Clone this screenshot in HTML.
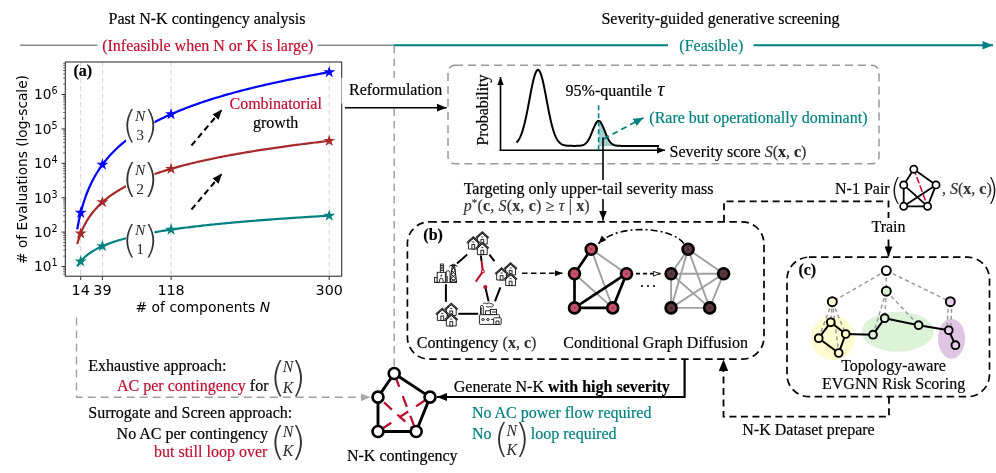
<!DOCTYPE html>
<html><head><meta charset="utf-8"><title>Figure</title>
<style>html,body{margin:0;padding:0;background:#fff}svg{display:block}text{stroke-width:0.18px}</style>
</head><body>
<svg width="996" height="473" viewBox="0 0 996 473">
<defs>
<marker id="ab" viewBox="0 0 10 8" refX="10" refY="4" markerWidth="10" markerHeight="8" markerUnits="userSpaceOnUse" orient="auto"><path d="M0,0 L10,4 L0,8 z" fill="#000"/></marker>
<marker id="abs" viewBox="0 0 10 8" refX="10" refY="4" markerWidth="8" markerHeight="6.4" markerUnits="userSpaceOnUse" orient="auto"><path d="M0,0 L10,4 L0,8 z" fill="#000"/></marker>
<marker id="ag" viewBox="0 0 10 8" refX="10" refY="4" markerWidth="10" markerHeight="8" markerUnits="userSpaceOnUse" orient="auto"><path d="M0,0 L10,4 L0,8 z" fill="#aaa"/></marker>
<marker id="at" viewBox="0 0 10 8" refX="10" refY="4" markerWidth="11" markerHeight="8.4" markerUnits="userSpaceOnUse" orient="auto"><path d="M0,0 L10,4 L0,8 z" fill="#008080"/></marker>
<marker id="ats" viewBox="0 0 10 8" refX="10" refY="4" markerWidth="10" markerHeight="8" markerUnits="userSpaceOnUse" orient="auto"><path d="M0,0 L10,4 L0,8 z" fill="#008080"/></marker>
<marker id="ao" viewBox="0 0 10 8" refX="10" refY="4" markerWidth="8" markerHeight="6" markerUnits="userSpaceOnUse" orient="auto"><path d="M0.5,0.8 L9,4 L0.5,7.2 z" fill="#fff" stroke="#000" stroke-width="1.2"/></marker>
</defs>
<rect width="996" height="473" fill="#fff"/>
<text x="207.00" y="23.80" font-size="16" fill="#000" text-anchor="middle" font-family="'Liberation Serif', serif"  stroke="#000">Past N-K contingency analysis</text>
<text x="720.50" y="23.80" font-size="16" fill="#000" text-anchor="middle" font-family="'Liberation Serif', serif"  stroke="#000">Severity-guided generative screening</text>
<line x1="20" y1="45.3" x2="97.5" y2="45.3" stroke="#8c8c8c" stroke-width="1.4"/>
<line x1="317.5" y1="45.3" x2="393.5" y2="45.3" stroke="#8c8c8c" stroke-width="1.4"/>
<text x="207.80" y="50.80" font-size="16" fill="#be1030" text-anchor="middle" font-family="'Liberation Serif', serif"  stroke="#be1030">(Infeasible when N or K is large)</text>
<line x1="393.5" y1="45.3" x2="668" y2="45.3" stroke="#008080" stroke-width="1.9"/>
<line x1="753.5" y1="45.3" x2="993" y2="45.3" stroke="#008080" stroke-width="1.9" marker-end="url(#at)"/>
<text x="711.30" y="50.80" font-size="16" fill="#008080" text-anchor="middle" font-family="'Liberation Serif', serif"  stroke="#008080">(Feasible)</text>
<line x1="394.2" y1="46" x2="394.2" y2="367" stroke="#a0a0a0" stroke-width="1.5" stroke-dasharray="7.5,5"/>
<line x1="80.7" y1="62" x2="80.7" y2="276.2" stroke="#d6d6d6" stroke-width="1.1" stroke-dasharray="5,3"/>
<line x1="102.4" y1="62" x2="102.4" y2="276.2" stroke="#d6d6d6" stroke-width="1.1" stroke-dasharray="5,3"/>
<line x1="171.1" y1="62" x2="171.1" y2="276.2" stroke="#d6d6d6" stroke-width="1.1" stroke-dasharray="5,3"/>
<line x1="329.2" y1="62" x2="329.2" y2="276.2" stroke="#d6d6d6" stroke-width="1.1" stroke-dasharray="5,3"/>
<clipPath id="cp"><rect x="65.3" y="62" width="276.4" height="214.2"/></clipPath>
<polyline points="77.22,266.50 78.96,263.78 80.70,261.47 82.44,259.48 84.18,257.72 85.91,256.14 87.65,254.72 89.39,253.42 91.13,252.22 92.87,251.12 94.60,250.09 96.34,249.12 98.08,248.22 99.82,247.36 101.56,246.56 103.29,245.79 105.03,245.06 106.77,244.37 108.51,243.70 110.25,243.07 111.98,242.46 113.72,241.87 115.46,241.31 117.20,240.76 118.94,240.24 120.67,239.73 122.41,239.24 124.15,238.77 125.89,238.31 127.63,237.86 129.36,237.43 131.10,237.01 132.84,236.60 134.58,236.20 136.32,235.81 138.05,235.43 139.79,235.06 141.53,234.70 143.27,234.35 145.01,234.01 146.74,233.67 148.48,233.35 150.22,233.02 151.96,232.71 153.70,232.40 155.43,232.10 157.17,231.80 158.91,231.51 160.65,231.23 162.39,230.95 164.12,230.68 165.86,230.41 167.60,230.14 169.34,229.88 171.08,229.63 172.81,229.38 174.55,229.13 176.29,228.89 178.03,228.65 179.77,228.41 181.50,228.18 183.24,227.95 184.98,227.73 186.72,227.51 188.46,227.29 190.19,227.07 191.93,226.86 193.67,226.65 195.41,226.45 197.15,226.24 198.88,226.04 200.62,225.84 202.36,225.65 204.10,225.46 205.84,225.27 207.57,225.08 209.31,224.89 211.05,224.71 212.79,224.53 214.53,224.35 216.26,224.17 218.00,224.00 219.74,223.83 221.48,223.65 223.22,223.49 224.95,223.32 226.69,223.15 228.43,222.99 230.17,222.83 231.91,222.67 233.64,222.51 235.38,222.35 237.12,222.20 238.86,222.05 240.60,221.89 242.33,221.74 244.07,221.60 245.81,221.45 247.55,221.30 249.29,221.16 251.02,221.02 252.76,220.87 254.50,220.73 256.24,220.59 257.98,220.46 259.71,220.32 261.45,220.19 263.19,220.05 264.93,219.92 266.67,219.79 268.40,219.66 270.14,219.53 271.88,219.40 273.62,219.27 275.36,219.15 277.09,219.02 278.83,218.90 280.57,218.77 282.31,218.65 284.05,218.53 285.78,218.41 287.52,218.29 289.26,218.17 291.00,218.06 292.74,217.94 294.47,217.82 296.21,217.71 297.95,217.60 299.69,217.48 301.43,217.37 303.16,217.26 304.90,217.15 306.64,217.04 308.38,216.93 310.12,216.82 311.85,216.72 313.59,216.61 315.33,216.51 317.07,216.40 318.81,216.30 320.54,216.19 322.28,216.09 324.02,215.99 325.76,215.89 327.50,215.79 329.23,215.69" fill="none" stroke="#008080" stroke-width="2.2" stroke-linejoin="round" clip-path="url(#cp)"/>
<polyline points="77.22,244.03 78.96,238.31 80.70,233.51 82.44,229.38 84.18,225.75 85.91,222.51 87.65,219.59 89.39,216.93 91.13,214.49 92.87,212.23 94.60,210.14 96.34,208.18 98.08,206.34 99.82,204.60 101.56,202.96 103.29,201.41 105.03,199.94 106.77,198.53 108.51,197.19 110.25,195.90 111.98,194.67 113.72,193.48 115.46,192.35 117.20,191.25 118.94,190.19 120.67,189.17 122.41,188.18 124.15,187.23 125.89,186.30 127.63,185.40 129.36,184.53 131.10,183.68 132.84,182.86 134.58,182.05 136.32,181.27 138.05,180.51 139.79,179.77 141.53,179.04 143.27,178.34 145.01,177.65 146.74,176.97 148.48,176.31 150.22,175.66 151.96,175.03 153.70,174.41 155.43,173.81 157.17,173.21 158.91,172.63 160.65,172.06 162.39,171.49 164.12,170.94 165.86,170.40 167.60,169.87 169.34,169.35 171.08,168.84 172.81,168.33 174.55,167.84 176.29,167.35 178.03,166.87 179.77,166.40 181.50,165.93 183.24,165.47 184.98,165.02 186.72,164.58 188.46,164.14 190.19,163.71 191.93,163.28 193.67,162.86 195.41,162.45 197.15,162.04 198.88,161.64 200.62,161.24 202.36,160.85 204.10,160.46 205.84,160.08 207.57,159.71 209.31,159.33 211.05,158.97 212.79,158.60 214.53,158.24 216.26,157.89 218.00,157.54 219.74,157.19 221.48,156.85 223.22,156.51 224.95,156.18 226.69,155.84 228.43,155.52 230.17,155.19 231.91,154.87 233.64,154.56 235.38,154.24 237.12,153.93 238.86,153.62 240.60,153.32 242.33,153.02 244.07,152.72 245.81,152.43 247.55,152.13 249.29,151.84 251.02,151.56 252.76,151.27 254.50,150.99 256.24,150.71 257.98,150.44 259.71,150.16 261.45,149.89 263.19,149.63 264.93,149.36 266.67,149.10 268.40,148.83 270.14,148.57 271.88,148.32 273.62,148.06 275.36,147.81 277.09,147.56 278.83,147.31 280.57,147.06 282.31,146.82 284.05,146.58 285.78,146.34 287.52,146.10 289.26,145.86 291.00,145.63 292.74,145.39 294.47,145.16 296.21,144.93 297.95,144.71 299.69,144.48 301.43,144.26 303.16,144.03 304.90,143.81 306.64,143.59 308.38,143.38 310.12,143.16 311.85,142.94 313.59,142.73 315.33,142.52 317.07,142.31 318.81,142.10 320.54,141.89 322.28,141.69 324.02,141.48 325.76,141.28 327.50,141.08 329.23,140.88" fill="none" stroke="#a52a2a" stroke-width="2.2" stroke-linejoin="round" clip-path="url(#cp)"/>
<polyline points="77.22,229.38 78.96,220.32 80.70,212.80 82.44,206.36 84.18,200.74 85.91,195.74 87.65,191.25 89.39,187.17 91.13,183.42 92.87,179.97 94.60,176.77 96.34,173.78 98.08,170.97 99.82,168.33 101.56,165.84 103.29,163.48 105.03,161.24 106.77,159.10 108.51,157.06 110.25,155.11 111.98,153.25 113.72,151.45 115.46,149.73 117.20,148.07 118.94,146.47 120.67,144.92 122.41,143.43 124.15,141.98 125.89,140.58 127.63,139.22 129.36,137.90 131.10,136.62 132.84,135.38 134.58,134.16 136.32,132.99 138.05,131.84 139.79,130.72 141.53,129.62 143.27,128.55 145.01,127.51 146.74,126.49 148.48,125.50 150.22,124.52 151.96,123.57 153.70,122.64 155.43,121.72 157.17,120.82 158.91,119.95 160.65,119.08 162.39,118.24 164.12,117.41 165.86,116.59 167.60,115.79 169.34,115.01 171.08,114.23 172.81,113.47 174.55,112.73 176.29,111.99 178.03,111.27 179.77,110.56 181.50,109.86 183.24,109.17 184.98,108.49 186.72,107.82 188.46,107.16 190.19,106.51 191.93,105.87 193.67,105.24 195.41,104.62 197.15,104.00 198.88,103.40 200.62,102.80 202.36,102.21 204.10,101.63 205.84,101.05 207.57,100.48 209.31,99.92 211.05,99.37 212.79,98.82 214.53,98.28 216.26,97.75 218.00,97.22 219.74,96.70 221.48,96.19 223.22,95.68 224.95,95.17 226.69,94.68 228.43,94.18 230.17,93.70 231.91,93.21 233.64,92.74 235.38,92.27 237.12,91.80 238.86,91.34 240.60,90.88 242.33,90.43 244.07,89.98 245.81,89.54 247.55,89.10 249.29,88.66 251.02,88.23 252.76,87.80 254.50,87.38 256.24,86.96 257.98,86.55 259.71,86.13 261.45,85.73 263.19,85.32 264.93,84.92 266.67,84.53 268.40,84.13 270.14,83.74 271.88,83.36 273.62,82.97 275.36,82.59 277.09,82.22 278.83,81.84 280.57,81.47 282.31,81.11 284.05,80.74 285.78,80.38 287.52,80.02 289.26,79.67 291.00,79.31 292.74,78.96 294.47,78.62 296.21,78.27 297.95,77.93 299.69,77.59 301.43,77.25 303.16,76.92 304.90,76.59 306.64,76.26 308.38,75.93 310.12,75.60 311.85,75.28 313.59,74.96 315.33,74.64 317.07,74.33 318.81,74.02 320.54,73.70 322.28,73.39 324.02,73.09 325.76,72.78 327.50,72.48 329.23,72.18" fill="none" stroke="#0000ff" stroke-width="2.2" stroke-linejoin="round" clip-path="url(#cp)"/>
<polygon points="80.70,255.17 82.11,259.53 86.69,259.53 82.99,262.22 84.40,266.57 80.70,263.88 77.00,266.57 78.41,262.22 74.71,259.53 79.29,259.53" fill="#008080"/>
<polygon points="102.43,239.87 103.84,244.22 108.42,244.22 104.71,246.91 106.13,251.26 102.43,248.57 98.72,251.26 100.14,246.91 96.43,244.22 101.01,244.22" fill="#008080"/>
<polygon points="171.08,223.33 172.49,227.68 177.07,227.68 173.36,230.37 174.78,234.72 171.08,232.03 167.37,234.72 168.79,230.37 165.08,227.68 169.66,227.68" fill="#008080"/>
<polygon points="329.23,209.39 330.65,213.74 335.23,213.74 331.52,216.43 332.94,220.78 329.23,218.09 325.53,220.78 326.95,216.43 323.24,213.74 327.82,213.74" fill="#008080"/>
<polygon points="80.70,227.21 82.11,231.56 86.69,231.56 82.99,234.25 84.40,238.61 80.70,235.92 77.00,238.61 78.41,234.25 74.71,231.56 79.29,231.56" fill="#a52a2a"/>
<polygon points="102.43,195.88 103.84,200.23 108.42,200.23 104.71,202.92 106.13,207.28 102.43,204.58 98.72,207.28 100.14,202.92 96.43,200.23 101.01,200.23" fill="#a52a2a"/>
<polygon points="171.08,162.54 172.49,166.89 177.07,166.89 173.36,169.58 174.78,173.93 171.08,171.24 167.37,173.93 168.79,169.58 165.08,166.89 169.66,166.89" fill="#a52a2a"/>
<polygon points="329.23,134.58 330.65,138.93 335.23,138.93 331.52,141.62 332.94,145.98 329.23,143.29 325.53,145.98 326.95,141.62 323.24,138.93 327.82,138.93" fill="#a52a2a"/>
<polygon points="80.70,206.50 82.11,210.85 86.69,210.85 82.99,213.54 84.40,217.89 80.70,215.20 77.00,217.89 78.41,213.54 74.71,210.85 79.29,210.85" fill="#0000ff"/>
<polygon points="102.43,158.35 103.84,162.70 108.42,162.70 104.71,165.39 106.13,169.74 102.43,167.05 98.72,169.74 100.14,165.39 96.43,162.70 101.01,162.70" fill="#0000ff"/>
<polygon points="171.08,107.93 172.49,112.29 177.07,112.29 173.36,114.98 174.78,119.33 171.08,116.64 167.37,119.33 168.79,114.98 165.08,112.29 169.66,112.29" fill="#0000ff"/>
<polygon points="329.23,65.88 330.65,70.23 335.23,70.23 331.52,72.92 332.94,77.28 329.23,74.59 325.53,77.28 326.95,72.92 323.24,70.23 327.82,70.23" fill="#0000ff"/>
<rect x="125.9" y="108.5" width="28.6" height="33.3" fill="#fff"/>
<text x="140.20" y="120.50" font-size="15.5" fill="#2a2a2a" text-anchor="middle" font-family="'Liberation Serif', serif" font-style="italic" style="stroke-width:0" stroke="#2a2a2a">N</text>
<text x="140.20" y="139.50" font-size="15.5" fill="#2a2a2a" text-anchor="middle" font-family="'Liberation Serif', serif" style="stroke-width:0" stroke="#2a2a2a">3</text>
<text x="122.33" y="136.87" font-size="37.33" fill="#333" font-family="'DejaVu Sans Light', 'DejaVu Sans', sans-serif" font-weight="200">(</text>
<text x="143.51" y="136.87" font-size="37.33" fill="#333" font-family="'DejaVu Sans Light', 'DejaVu Sans', sans-serif" font-weight="200">)</text>
<rect x="125.9" y="162.3" width="28.6" height="35.1" fill="#fff"/>
<text x="140.20" y="174.80" font-size="15.5" fill="#2a2a2a" text-anchor="middle" font-family="'Liberation Serif', serif" font-style="italic" style="stroke-width:0" stroke="#2a2a2a">N</text>
<text x="140.20" y="193.80" font-size="15.5" fill="#2a2a2a" text-anchor="middle" font-family="'Liberation Serif', serif" style="stroke-width:0" stroke="#2a2a2a">2</text>
<text x="122.11" y="192.21" font-size="39.35" fill="#333" font-family="'DejaVu Sans Light', 'DejaVu Sans', sans-serif" font-weight="200">(</text>
<text x="142.94" y="192.21" font-size="39.35" fill="#333" font-family="'DejaVu Sans Light', 'DejaVu Sans', sans-serif" font-weight="200">)</text>
<rect x="125.9" y="223.3" width="28.6" height="33.3" fill="#fff"/>
<text x="140.20" y="234.60" font-size="15.5" fill="#2a2a2a" text-anchor="middle" font-family="'Liberation Serif', serif" font-style="italic" style="stroke-width:0" stroke="#2a2a2a">N</text>
<text x="140.20" y="253.80" font-size="15.5" fill="#2a2a2a" text-anchor="middle" font-family="'Liberation Serif', serif" style="stroke-width:0" stroke="#2a2a2a">1</text>
<text x="122.33" y="251.67" font-size="37.33" fill="#333" font-family="'DejaVu Sans Light', 'DejaVu Sans', sans-serif" font-weight="200">(</text>
<text x="143.51" y="251.67" font-size="37.33" fill="#333" font-family="'DejaVu Sans Light', 'DejaVu Sans', sans-serif" font-weight="200">)</text>
<rect x="65.3" y="62" width="276.4" height="214.2" fill="none" stroke="#2a2a2a" stroke-width="1.05"/>
<line x1="61.5" y1="266.5" x2="65.3" y2="266.5" stroke="#333" stroke-width="1"/>
<text x="57.5" y="271.3" font-size="13.7" text-anchor="end" fill="#000" font-family="'DejaVu Sans', 'Liberation Sans', sans-serif">10<tspan dy="-5" font-size="9.6">1</tspan></text>
<line x1="61.5" y1="232.1" x2="65.3" y2="232.1" stroke="#333" stroke-width="1"/>
<text x="57.5" y="236.9" font-size="13.7" text-anchor="end" fill="#000" font-family="'DejaVu Sans', 'Liberation Sans', sans-serif">10<tspan dy="-5" font-size="9.6">2</tspan></text>
<line x1="61.5" y1="197.7" x2="65.3" y2="197.7" stroke="#333" stroke-width="1"/>
<text x="57.5" y="202.5" font-size="13.7" text-anchor="end" fill="#000" font-family="'DejaVu Sans', 'Liberation Sans', sans-serif">10<tspan dy="-5" font-size="9.6">3</tspan></text>
<line x1="61.5" y1="163.3" x2="65.3" y2="163.3" stroke="#333" stroke-width="1"/>
<text x="57.5" y="168.1" font-size="13.7" text-anchor="end" fill="#000" font-family="'DejaVu Sans', 'Liberation Sans', sans-serif">10<tspan dy="-5" font-size="9.6">4</tspan></text>
<line x1="61.5" y1="128.9" x2="65.3" y2="128.9" stroke="#333" stroke-width="1"/>
<text x="57.5" y="133.7" font-size="13.7" text-anchor="end" fill="#000" font-family="'DejaVu Sans', 'Liberation Sans', sans-serif">10<tspan dy="-5" font-size="9.6">5</tspan></text>
<line x1="61.5" y1="94.5" x2="65.3" y2="94.5" stroke="#333" stroke-width="1"/>
<text x="57.5" y="99.3" font-size="13.7" text-anchor="end" fill="#000" font-family="'DejaVu Sans', 'Liberation Sans', sans-serif">10<tspan dy="-5" font-size="9.6">6</tspan></text>
<line x1="63.099999999999994" y1="274.1" x2="65.3" y2="274.1" stroke="#333" stroke-width="0.7"/>
<line x1="63.099999999999994" y1="271.8" x2="65.3" y2="271.8" stroke="#333" stroke-width="0.7"/>
<line x1="63.099999999999994" y1="269.8" x2="65.3" y2="269.8" stroke="#333" stroke-width="0.7"/>
<line x1="63.099999999999994" y1="268.1" x2="65.3" y2="268.1" stroke="#333" stroke-width="0.7"/>
<line x1="63.099999999999994" y1="256.1" x2="65.3" y2="256.1" stroke="#333" stroke-width="0.7"/>
<line x1="63.099999999999994" y1="250.1" x2="65.3" y2="250.1" stroke="#333" stroke-width="0.7"/>
<line x1="63.099999999999994" y1="245.8" x2="65.3" y2="245.8" stroke="#333" stroke-width="0.7"/>
<line x1="63.099999999999994" y1="242.5" x2="65.3" y2="242.5" stroke="#333" stroke-width="0.7"/>
<line x1="63.099999999999994" y1="239.7" x2="65.3" y2="239.7" stroke="#333" stroke-width="0.7"/>
<line x1="63.099999999999994" y1="237.4" x2="65.3" y2="237.4" stroke="#333" stroke-width="0.7"/>
<line x1="63.099999999999994" y1="235.4" x2="65.3" y2="235.4" stroke="#333" stroke-width="0.7"/>
<line x1="63.099999999999994" y1="233.7" x2="65.3" y2="233.7" stroke="#333" stroke-width="0.7"/>
<line x1="63.099999999999994" y1="221.7" x2="65.3" y2="221.7" stroke="#333" stroke-width="0.7"/>
<line x1="63.099999999999994" y1="215.7" x2="65.3" y2="215.7" stroke="#333" stroke-width="0.7"/>
<line x1="63.099999999999994" y1="211.4" x2="65.3" y2="211.4" stroke="#333" stroke-width="0.7"/>
<line x1="63.099999999999994" y1="208.1" x2="65.3" y2="208.1" stroke="#333" stroke-width="0.7"/>
<line x1="63.099999999999994" y1="205.3" x2="65.3" y2="205.3" stroke="#333" stroke-width="0.7"/>
<line x1="63.099999999999994" y1="203.0" x2="65.3" y2="203.0" stroke="#333" stroke-width="0.7"/>
<line x1="63.099999999999994" y1="201.0" x2="65.3" y2="201.0" stroke="#333" stroke-width="0.7"/>
<line x1="63.099999999999994" y1="199.3" x2="65.3" y2="199.3" stroke="#333" stroke-width="0.7"/>
<line x1="63.099999999999994" y1="187.3" x2="65.3" y2="187.3" stroke="#333" stroke-width="0.7"/>
<line x1="63.099999999999994" y1="181.3" x2="65.3" y2="181.3" stroke="#333" stroke-width="0.7"/>
<line x1="63.099999999999994" y1="177.0" x2="65.3" y2="177.0" stroke="#333" stroke-width="0.7"/>
<line x1="63.099999999999994" y1="173.7" x2="65.3" y2="173.7" stroke="#333" stroke-width="0.7"/>
<line x1="63.099999999999994" y1="170.9" x2="65.3" y2="170.9" stroke="#333" stroke-width="0.7"/>
<line x1="63.099999999999994" y1="168.6" x2="65.3" y2="168.6" stroke="#333" stroke-width="0.7"/>
<line x1="63.099999999999994" y1="166.6" x2="65.3" y2="166.6" stroke="#333" stroke-width="0.7"/>
<line x1="63.099999999999994" y1="164.9" x2="65.3" y2="164.9" stroke="#333" stroke-width="0.7"/>
<line x1="63.099999999999994" y1="152.9" x2="65.3" y2="152.9" stroke="#333" stroke-width="0.7"/>
<line x1="63.099999999999994" y1="146.9" x2="65.3" y2="146.9" stroke="#333" stroke-width="0.7"/>
<line x1="63.099999999999994" y1="142.6" x2="65.3" y2="142.6" stroke="#333" stroke-width="0.7"/>
<line x1="63.099999999999994" y1="139.3" x2="65.3" y2="139.3" stroke="#333" stroke-width="0.7"/>
<line x1="63.099999999999994" y1="136.5" x2="65.3" y2="136.5" stroke="#333" stroke-width="0.7"/>
<line x1="63.099999999999994" y1="134.2" x2="65.3" y2="134.2" stroke="#333" stroke-width="0.7"/>
<line x1="63.099999999999994" y1="132.2" x2="65.3" y2="132.2" stroke="#333" stroke-width="0.7"/>
<line x1="63.099999999999994" y1="130.5" x2="65.3" y2="130.5" stroke="#333" stroke-width="0.7"/>
<line x1="63.099999999999994" y1="118.5" x2="65.3" y2="118.5" stroke="#333" stroke-width="0.7"/>
<line x1="63.099999999999994" y1="112.5" x2="65.3" y2="112.5" stroke="#333" stroke-width="0.7"/>
<line x1="63.099999999999994" y1="108.2" x2="65.3" y2="108.2" stroke="#333" stroke-width="0.7"/>
<line x1="63.099999999999994" y1="104.9" x2="65.3" y2="104.9" stroke="#333" stroke-width="0.7"/>
<line x1="63.099999999999994" y1="102.1" x2="65.3" y2="102.1" stroke="#333" stroke-width="0.7"/>
<line x1="63.099999999999994" y1="99.8" x2="65.3" y2="99.8" stroke="#333" stroke-width="0.7"/>
<line x1="63.099999999999994" y1="97.8" x2="65.3" y2="97.8" stroke="#333" stroke-width="0.7"/>
<line x1="63.099999999999994" y1="96.1" x2="65.3" y2="96.1" stroke="#333" stroke-width="0.7"/>
<line x1="63.099999999999994" y1="84.1" x2="65.3" y2="84.1" stroke="#333" stroke-width="0.7"/>
<line x1="63.099999999999994" y1="78.1" x2="65.3" y2="78.1" stroke="#333" stroke-width="0.7"/>
<line x1="63.099999999999994" y1="73.8" x2="65.3" y2="73.8" stroke="#333" stroke-width="0.7"/>
<line x1="63.099999999999994" y1="70.5" x2="65.3" y2="70.5" stroke="#333" stroke-width="0.7"/>
<line x1="63.099999999999994" y1="67.7" x2="65.3" y2="67.7" stroke="#333" stroke-width="0.7"/>
<line x1="63.099999999999994" y1="65.4" x2="65.3" y2="65.4" stroke="#333" stroke-width="0.7"/>
<line x1="63.099999999999994" y1="63.4" x2="65.3" y2="63.4" stroke="#333" stroke-width="0.7"/>
<line x1="80.7" y1="276.2" x2="80.7" y2="280.0" stroke="#333" stroke-width="1"/>
<text x="80.70" y="294.70" font-size="14.3" fill="#000" text-anchor="middle" font-family="'DejaVu Sans', 'Liberation Sans', sans-serif" >14</text>
<line x1="102.4" y1="276.2" x2="102.4" y2="280.0" stroke="#333" stroke-width="1"/>
<text x="102.43" y="294.70" font-size="14.3" fill="#000" text-anchor="middle" font-family="'DejaVu Sans', 'Liberation Sans', sans-serif" >39</text>
<line x1="171.1" y1="276.2" x2="171.1" y2="280.0" stroke="#333" stroke-width="1"/>
<text x="171.08" y="294.70" font-size="14.3" fill="#000" text-anchor="middle" font-family="'DejaVu Sans', 'Liberation Sans', sans-serif" >118</text>
<line x1="329.2" y1="276.2" x2="329.2" y2="280.0" stroke="#333" stroke-width="1"/>
<text x="329.23" y="294.70" font-size="14.3" fill="#000" text-anchor="middle" font-family="'DejaVu Sans', 'Liberation Sans', sans-serif" >300</text>
<text x="202.8" y="311.5" font-size="13.9" text-anchor="middle" fill="#000" font-family="'DejaVu Sans', 'Liberation Sans', sans-serif"># of components <tspan font-style="italic">N</tspan></text>
<text transform="translate(26.8,169.5) rotate(-90)" font-size="13.7" text-anchor="middle" fill="#000" font-family="'DejaVu Sans', 'Liberation Sans', sans-serif"># of Evaluations (log-scale)</text>
<text x="73.50" y="76.30" font-size="16" fill="#000" text-anchor="start" font-family="'Liberation Serif', serif" font-weight="bold" stroke="#000">(a)</text>
<line x1="191.5" y1="145.5" x2="222" y2="109.5" stroke="#000" stroke-width="2.1" stroke-dasharray="6,4" marker-end="url(#ab)"/>
<line x1="191.5" y1="209.5" x2="222" y2="173.5" stroke="#000" stroke-width="2.1" stroke-dasharray="6,4" marker-end="url(#ab)"/>
<text x="275.70" y="109.00" font-size="16" fill="#be1030" text-anchor="middle" font-family="'Liberation Serif', serif"  stroke="#be1030">Combinatorial</text>
<text x="275.70" y="127.80" font-size="16" fill="#000" text-anchor="middle" font-family="'Liberation Serif', serif"  stroke="#000">growth</text>
<rect x="341.5" y="77.8" width="103" height="25.8" fill="#fff"/>
<text x="349.00" y="95.40" font-size="16" fill="#000" text-anchor="start" font-family="'Liberation Serif', serif"  stroke="#000">Reformulation</text>
<line x1="345" y1="107.7" x2="446.7" y2="107.7" stroke="#000" stroke-width="1.6" marker-end="url(#ab)"/>
<rect x="448" y="65.3" width="431" height="98.5" rx="7" fill="none" stroke="#999" stroke-width="1.5" stroke-dasharray="8,5"/>
<text transform="translate(488,110) rotate(-90)" font-size="16" text-anchor="middle" fill="#000" font-family="'Liberation Serif', serif" stroke="#000">Probability</text>
<line x1="500.5" y1="151" x2="500.5" y2="77" stroke="#000" stroke-width="1.6" marker-end="url(#abs)"/>
<line x1="499.7" y1="150.3" x2="665" y2="150.3" stroke="#000" stroke-width="1.6" marker-end="url(#abs)"/>
<path d="M598.6,145.9 L599.00,120.96 L599.50,121.18 L600.00,121.57 L600.50,122.12 L601.00,122.82 L601.50,123.66 L602.00,124.61 L602.50,125.66 L603.00,126.79 L603.50,127.99 L604.00,129.23 L604.50,130.48 L605.00,131.75 L605.50,132.99 L606.00,134.21 L606.50,135.39 L607.00,136.52 L607.50,137.58 L608.00,138.57 L608.50,139.49 L609.00,140.33 L609.50,141.10 L610.00,141.79 L610.50,142.40 L611.00,142.95 L611.50,143.42 L612.00,143.84 L612.50,144.19 L613.00,144.50 L613.50,144.76 L614.00,144.97 L614,145.9 Z" fill="#9fd0d0"/>
<polyline points="516.50,142.56 517.00,142.04 517.50,141.46 518.00,140.81 518.50,140.09 519.00,139.28 519.50,138.38 520.00,137.40 520.50,136.31 521.00,135.13 521.50,133.84 522.00,132.44 522.50,130.92 523.00,129.30 523.50,127.56 524.00,125.70 524.50,123.73 525.00,121.65 525.50,119.47 526.00,117.19 526.50,114.82 527.00,112.36 527.50,109.83 528.00,107.24 528.50,104.61 529.00,101.95 529.50,99.27 530.00,96.59 530.50,93.94 531.00,91.33 531.50,88.78 532.00,86.32 532.50,83.96 533.00,81.72 533.50,79.62 534.00,77.69 534.50,75.94 535.00,74.39 535.50,73.04 536.00,71.93 536.50,71.05 537.00,70.41 537.50,70.03 538.00,69.90 538.50,70.03 539.00,70.41 539.50,71.05 540.00,71.93 540.50,73.04 541.00,74.39 541.50,75.94 542.00,77.69 542.50,79.62 543.00,81.72 543.50,83.96 544.00,86.32 544.50,88.78 545.00,91.33 545.50,93.94 546.00,96.59 546.50,99.27 547.00,101.95 547.50,104.61 548.00,107.24 548.50,109.83 549.00,112.36 549.50,114.82 550.00,117.19 550.50,119.47 551.00,121.65 551.50,123.73 552.00,125.70 552.50,127.56 553.00,129.30 553.50,130.92 554.00,132.44 554.50,133.84 555.00,135.13 555.50,136.31 556.00,137.40 556.50,138.38 557.00,139.28 557.50,140.09 558.00,140.81 558.50,141.46 559.00,142.04 559.50,142.56 560.00,143.02 560.50,143.42 561.00,143.77 561.50,144.08 562.00,144.35 562.50,144.59 563.00,144.79 563.50,144.96 564.00,145.11 564.50,145.24 565.00,145.35 565.50,145.44 566.00,145.52 566.50,145.59 567.00,145.64 567.50,145.69 568.00,145.73 568.50,145.76 569.00,145.79 569.50,145.81 570.00,145.82 570.50,145.84 571.00,145.85 571.50,145.86 572.00,145.87 572.50,145.87 573.00,145.88 573.50,145.88 574.00,145.88 574.50,145.88 575.00,145.88 575.50,145.88 576.00,145.87 576.50,145.87 577.00,145.86 577.50,145.85 578.00,145.83 578.50,145.81 579.00,145.78 579.50,145.74 580.00,145.69 580.50,145.64 581.00,145.56 581.50,145.47 582.00,145.36 582.50,145.22 583.00,145.05 583.50,144.85 584.00,144.61 584.50,144.32 585.00,143.98 585.50,143.59 586.00,143.14 586.50,142.63 587.00,142.04 587.50,141.38 588.00,140.65 588.50,139.84 589.00,138.95 589.50,137.99 590.00,136.95 590.50,135.85 591.00,134.69 591.50,133.49 592.00,132.25 592.50,130.99 593.00,129.73 593.50,128.48 594.00,127.27 594.50,126.11 595.00,125.02 595.50,124.02 596.00,123.14 596.50,122.39 597.00,121.77 597.50,121.32 598.00,121.02 598.50,120.90 599.00,120.96 599.50,121.18 600.00,121.57 600.50,122.12 601.00,122.82 601.50,123.66 602.00,124.61 602.50,125.66 603.00,126.79 603.50,127.99 604.00,129.23 604.50,130.48 605.00,131.75 605.50,132.99 606.00,134.21 606.50,135.39 607.00,136.52 607.50,137.58 608.00,138.57 608.50,139.49 609.00,140.33 609.50,141.10 610.00,141.79 610.50,142.40 611.00,142.95 611.50,143.42 612.00,143.84 612.50,144.19 613.00,144.50 613.50,144.76 614.00,144.97 614.50,145.15 615.00,145.30 615.50,145.43 616.00,145.53 616.50,145.61 617.00,145.67 617.50,145.72 618.00,145.77 618.50,145.80 619.00,145.82 619.50,145.84 620.00,145.86 620.50,145.87 621.00,145.88 621.50,145.88 622.00,145.89 622.50,145.89 623.00,145.89 623.50,145.90 624.00,145.90 624.50,145.90 625.00,145.90 625.50,145.90 626.00,145.90 626.50,145.90 627.00,145.90 627.50,145.90 628.00,145.90 628.50,145.90 629.00,145.90 629.50,145.90 630.00,145.90 630.50,145.90 631.00,145.90 631.50,145.90 632.00,145.90 632.50,145.90 633.00,145.90 633.50,145.90 634.00,145.90 634.50,145.90 635.00,145.90 635.50,145.90 636.00,145.90 636.50,145.90 637.00,145.90 637.50,145.90 638.00,145.90 638.50,145.90 639.00,145.90 639.50,145.90 640.00,145.90 640.50,145.90 641.00,145.90 641.50,145.90 642.00,145.90 642.50,145.90 643.00,145.90 643.50,145.90 644.00,145.90 644.50,145.90 645.00,145.90 645.50,145.90 646.00,145.90 646.50,145.90 647.00,145.90 647.50,145.90 648.00,145.90 648.50,145.90 649.00,145.90 649.50,145.90 650.00,145.90 650.50,145.90 651.00,145.90 651.50,145.90 652.00,145.90 652.50,145.90 653.00,145.90 653.50,145.90 654.00,145.90 654.50,145.90 655.00,145.90 655.50,145.90 656.00,145.90 656.50,145.90 657.00,145.90 657.50,145.90 658.00,145.90 658.50,145.90 659.00,145.90" fill="none" stroke="#000" stroke-width="2"/>
<line x1="598.6" y1="105.3" x2="598.6" y2="150.3" stroke="#008080" stroke-width="1.6" stroke-dasharray="5,3"/>
<line x1="603.6" y1="138.9" x2="643.5" y2="117.7" stroke="#008080" stroke-width="1.7" stroke-dasharray="6,4" marker-end="url(#ats)"/>
<text x="565.6" y="95.8" font-size="16" fill="#000" font-family="'Liberation Serif', serif" stroke="#000">95%-quantile <tspan font-style="italic" font-size="20" dx="1.5" style="stroke-width:0">τ</tspan></text>
<text x="649.30" y="123.30" font-size="16" fill="#008080" text-anchor="start" font-family="'Liberation Serif', serif"  stroke="#008080">(Rare but operationally dominant)</text>
<text x="669.6" y="156.5" font-size="16" fill="#000" font-family="'Liberation Serif', serif" stroke="#000">Severity score <tspan font-style="italic" fill="#333" stroke="#333">S</tspan><tspan fill="#333" stroke="#333">(</tspan><tspan font-weight="bold" fill="#222" stroke="#222">x</tspan><tspan fill="#333" stroke="#333">, </tspan><tspan font-weight="bold" fill="#222" stroke="#222">c</tspan><tspan fill="#333" stroke="#333">)</tspan></text>
<line x1="603" y1="137.5" x2="603" y2="220.5" stroke="#000" stroke-width="1.6" marker-end="url(#ab)"/>
<rect x="460" y="180" width="257" height="19" fill="#fff"/>
<text x="463.70" y="193.50" font-size="16" fill="#000" text-anchor="start" font-family="'Liberation Serif', serif"  stroke="#000">Targeting only upper-tail severity mass</text>
<text x="463.7" y="211.4" font-size="16" fill="#333" textLength="126" lengthAdjust="spacing" font-family="'Liberation Serif', serif" stroke="#333"><tspan font-style="italic">p</tspan><tspan dy="-5" font-size="11">*</tspan><tspan dy="5">(</tspan><tspan font-weight="bold">c</tspan>, <tspan font-style="italic">S</tspan>(<tspan font-weight="bold">x</tspan>, <tspan font-weight="bold">c</tspan>) ≥ <tspan font-style="italic">τ</tspan> | <tspan font-weight="bold">x</tspan>)</text>
<rect x="407.4" y="221.8" width="356.6" height="137.4" rx="22" fill="none" stroke="#000" stroke-width="1.7" stroke-dasharray="7.5,4.5"/>
<text x="423.30" y="239.60" font-size="16" fill="#000" text-anchor="start" font-family="'Liberation Serif', serif" font-weight="bold" stroke="#000">(b)</text>
<line x1="457" y1="263.6" x2="467.2" y2="254.6" stroke="#000" stroke-width="2.0" stroke-linecap="butt"/>
<line x1="489.4" y1="254.6" x2="494.4" y2="261.2" stroke="#000" stroke-width="2.0" stroke-linecap="butt"/>
<line x1="445.9" y1="284.2" x2="445.9" y2="301.8" stroke="#000" stroke-width="2.0" stroke-linecap="butt"/>
<line x1="458.3" y1="313.8" x2="478.2" y2="313.8" stroke="#000" stroke-width="2.0" stroke-linecap="butt"/>
<line x1="500.4" y1="287.4" x2="494.9" y2="301.4" stroke="#000" stroke-width="2.0" stroke-linecap="butt"/>
<line x1="485.3" y1="287" x2="488.6" y2="301.4" stroke="#000" stroke-width="2.0" stroke-linecap="butt"/>
<line x1="480.8" y1="255.4" x2="481.6" y2="261.3" stroke="#000" stroke-width="2.0" stroke-linecap="butt"/>
<line x1="481.6" y1="261.3" x2="482.8" y2="270.6" stroke="#c01030" stroke-width="2.1" stroke-linecap="butt"/>
<line x1="482.4" y1="272.2" x2="475.8" y2="281.6" stroke="#c01030" stroke-width="2.1" stroke-linecap="butt"/>
<circle cx="482.8" cy="271.4" r="1.4" fill="#fff" stroke="#c01030" stroke-width="1.2"/>
<circle cx="485.3" cy="287" r="2.1" fill="#c01030"/>
<g><path d="M477.40,237.60 L477.40,244.00 L487.20,244.00 L487.20,237.60 L482.30,233.20 Z" fill="#fff" stroke="#111" stroke-width="0.9"/><path d="M476.00,238.00 L482.30,232.40 L488.60,238.00" fill="none" stroke="#111" stroke-width="2" stroke-linejoin="miter"/><path d="M476.00,238.00 L482.30,232.40 L488.60,238.00" fill="none" stroke="#fff" stroke-width="0.5" stroke-dasharray="1,0.8"/><rect x="480.90" y="239.60" width="2.8" height="4.4" fill="#fff" stroke="#111" stroke-width="0.9"/><line x1="481.30" y1="237.00" x2="483.30" y2="237.00" stroke="#111" stroke-width="0.9"/><path d="M468.40,242.60 L468.40,249.00 L478.20,249.00 L478.20,242.60 L473.30,238.20 Z" fill="#fff" stroke="#111" stroke-width="0.9"/><path d="M467.00,243.00 L473.30,237.40 L479.60,243.00" fill="none" stroke="#111" stroke-width="2" stroke-linejoin="miter"/><path d="M467.00,243.00 L473.30,237.40 L479.60,243.00" fill="none" stroke="#fff" stroke-width="0.5" stroke-dasharray="1,0.8"/><rect x="471.90" y="244.60" width="2.8" height="4.4" fill="#fff" stroke="#111" stroke-width="0.9"/><line x1="472.30" y1="242.00" x2="474.30" y2="242.00" stroke="#111" stroke-width="0.9"/><path d="M477.40,248.20 L477.40,254.60 L487.20,254.60 L487.20,248.20 L482.30,243.80 Z" fill="#fff" stroke="#111" stroke-width="0.9"/><path d="M476.00,248.60 L482.30,243.00 L488.60,248.60" fill="none" stroke="#111" stroke-width="2" stroke-linejoin="miter"/><path d="M476.00,248.60 L482.30,243.00 L488.60,248.60" fill="none" stroke="#fff" stroke-width="0.5" stroke-dasharray="1,0.8"/><rect x="480.90" y="250.20" width="2.8" height="4.4" fill="#fff" stroke="#111" stroke-width="0.9"/><line x1="481.30" y1="247.60" x2="483.30" y2="247.60" stroke="#111" stroke-width="0.9"/></g>
<g><path d="M505.70,268.60 L505.70,275.00 L515.50,275.00 L515.50,268.60 L510.60,264.20 Z" fill="#fff" stroke="#111" stroke-width="0.9"/><path d="M504.30,269.00 L510.60,263.40 L516.90,269.00" fill="none" stroke="#111" stroke-width="2" stroke-linejoin="miter"/><path d="M504.30,269.00 L510.60,263.40 L516.90,269.00" fill="none" stroke="#fff" stroke-width="0.5" stroke-dasharray="1,0.8"/><rect x="509.20" y="270.60" width="2.8" height="4.4" fill="#fff" stroke="#111" stroke-width="0.9"/><line x1="509.60" y1="268.00" x2="511.60" y2="268.00" stroke="#111" stroke-width="0.9"/><path d="M496.70,273.60 L496.70,280.00 L506.50,280.00 L506.50,273.60 L501.60,269.20 Z" fill="#fff" stroke="#111" stroke-width="0.9"/><path d="M495.30,274.00 L501.60,268.40 L507.90,274.00" fill="none" stroke="#111" stroke-width="2" stroke-linejoin="miter"/><path d="M495.30,274.00 L501.60,268.40 L507.90,274.00" fill="none" stroke="#fff" stroke-width="0.5" stroke-dasharray="1,0.8"/><rect x="500.20" y="275.60" width="2.8" height="4.4" fill="#fff" stroke="#111" stroke-width="0.9"/><line x1="500.60" y1="273.00" x2="502.60" y2="273.00" stroke="#111" stroke-width="0.9"/><path d="M505.70,279.20 L505.70,285.60 L515.50,285.60 L515.50,279.20 L510.60,274.80 Z" fill="#fff" stroke="#111" stroke-width="0.9"/><path d="M504.30,279.60 L510.60,274.00 L516.90,279.60" fill="none" stroke="#111" stroke-width="2" stroke-linejoin="miter"/><path d="M504.30,279.60 L510.60,274.00 L516.90,279.60" fill="none" stroke="#fff" stroke-width="0.5" stroke-dasharray="1,0.8"/><rect x="509.20" y="281.20" width="2.8" height="4.4" fill="#fff" stroke="#111" stroke-width="0.9"/><line x1="509.60" y1="278.60" x2="511.60" y2="278.60" stroke="#111" stroke-width="0.9"/></g>
<g><path d="M446.40,309.00 L446.40,315.40 L456.20,315.40 L456.20,309.00 L451.30,304.60 Z" fill="#fff" stroke="#111" stroke-width="0.9"/><path d="M445.00,309.40 L451.30,303.80 L457.60,309.40" fill="none" stroke="#111" stroke-width="2" stroke-linejoin="miter"/><path d="M445.00,309.40 L451.30,303.80 L457.60,309.40" fill="none" stroke="#fff" stroke-width="0.5" stroke-dasharray="1,0.8"/><rect x="449.90" y="311.00" width="2.8" height="4.4" fill="#fff" stroke="#111" stroke-width="0.9"/><line x1="450.30" y1="308.40" x2="452.30" y2="308.40" stroke="#111" stroke-width="0.9"/><path d="M437.40,314.00 L437.40,320.40 L447.20,320.40 L447.20,314.00 L442.30,309.60 Z" fill="#fff" stroke="#111" stroke-width="0.9"/><path d="M436.00,314.40 L442.30,308.80 L448.60,314.40" fill="none" stroke="#111" stroke-width="2" stroke-linejoin="miter"/><path d="M436.00,314.40 L442.30,308.80 L448.60,314.40" fill="none" stroke="#fff" stroke-width="0.5" stroke-dasharray="1,0.8"/><rect x="440.90" y="316.00" width="2.8" height="4.4" fill="#fff" stroke="#111" stroke-width="0.9"/><line x1="441.30" y1="313.40" x2="443.30" y2="313.40" stroke="#111" stroke-width="0.9"/><path d="M446.40,319.60 L446.40,326.00 L456.20,326.00 L456.20,319.60 L451.30,315.20 Z" fill="#fff" stroke="#111" stroke-width="0.9"/><path d="M445.00,320.00 L451.30,314.40 L457.60,320.00" fill="none" stroke="#111" stroke-width="2" stroke-linejoin="miter"/><path d="M445.00,320.00 L451.30,314.40 L457.60,320.00" fill="none" stroke="#fff" stroke-width="0.5" stroke-dasharray="1,0.8"/><rect x="449.90" y="321.60" width="2.8" height="4.4" fill="#fff" stroke="#111" stroke-width="0.9"/><line x1="450.30" y1="319.00" x2="452.30" y2="319.00" stroke="#111" stroke-width="0.9"/></g>
<g stroke="#111" stroke-width="0.9" fill="#fff"><line x1="434" y1="282.3" x2="457" y2="282.3" stroke-width="1.3"/><rect x="434.6" y="277.4" width="2.6" height="4.9"/><rect x="437.2" y="272.3" width="8.2" height="10"/><path d="M439.6,282.3 V280 a1.7,1.7 0 0 1 3.4,0 V282.3" /><line x1="440.8" y1="276.6" x2="441.6" y2="274.6" stroke-width="1.1"/><rect x="440.3" y="264" width="3.2" height="8.3" stroke-width="0.8"/><line x1="440.3" y1="265.6" x2="443.5" y2="265.6" stroke-width="0.9"/><line x1="440.3" y1="267.2" x2="443.5" y2="267.2" stroke-width="0.9"/><line x1="440.3" y1="268.8" x2="443.5" y2="268.8" stroke-width="0.9"/><line x1="440.3" y1="270.4" x2="443.5" y2="270.4" stroke-width="0.9"/><path d="M446.2,282.3 V272.6 a1.9,1.9 0 0 1 3.8,0 V282.3" /><line x1="447.4" y1="276" x2="447.4" y2="282" stroke-width="0.7"/><path d="M450.2,282.3 L452.2,266 L454.6,266 L456.6,282.3" fill="none" stroke-width="1"/><path d="M452.2,266 L455.2,270.5 L451.4,274.5 L456,278.5 L450.4,282 M454.6,266 L451.6,270.5 L455.4,274.5 L450.8,278.5 L456.4,282" fill="none" stroke-width="0.9"/><path d="M449.3,266.3 L453.4,264.2 L457.5,266.3 M450.8,265.4 H456" fill="none" stroke-width="1"/></g>
<g stroke="#111" stroke-width="0.9" fill="#fff"><path d="M480.5,314.7 V306.8 a1.4,1.4 0 0 1 2.8,0 V314.7" /><line x1="481.5" y1="307.5" x2="481.5" y2="314.3" stroke-width="0.6"/><rect x="485.6" y="310.8" width="4.8" height="3.9"/><rect x="490.4" y="309.4" width="6.2" height="5.3"/><path d="M492,312 H496.4" fill="none" stroke-width="0.9"/><rect x="479.4" y="314.7" width="20.2" height="9.7" rx="0.8"/><ellipse cx="483" cy="319.5" rx="1.4" ry="0.9"/><ellipse cx="488" cy="319.5" rx="1.4" ry="0.9"/><path d="M491.2,319.5 H493" fill="none"/><rect x="493.6" y="317.8" width="7.6" height="6.6" rx="0.8"/><path d="M496,324.4 V321 H499 V324.4" fill="none"/><path d="M483.2,303.4 C485,302.8 486,303.2 487,304 C488.2,302.6 490.2,302.8 491,303.8 C492.6,303.4 493.6,304.6 493.2,305.8 C492.4,307.4 490.6,307.2 489.8,306.4 C488.8,307.4 487.2,307.4 486.2,306.2" fill="none" stroke-width="0.9"/></g>
<text x="416.8" y="347.7" font-size="16" fill="#000" font-family="'Liberation Serif', serif" stroke="#000">Contingency <tspan fill="#333" stroke="#333">(<tspan font-weight="bold">x</tspan>, <tspan font-weight="bold">c</tspan>)</tspan></text>
<text x="563.30" y="347.50" font-size="16" fill="#000" text-anchor="start" font-family="'Liberation Serif', serif"  stroke="#000">Conditional Graph Diffusion</text>
<line x1="522" y1="273.2" x2="562.5" y2="273.2" stroke="#000" stroke-width="1.6" stroke-dasharray="5.5,3.5" marker-end="url(#abs)"/>
<line x1="591.2" y1="249.2" x2="626.5" y2="273.7" stroke="#a0a0a0" stroke-width="1.9" stroke-linecap="round"/>
<line x1="591.2" y1="249.2" x2="612.7" y2="307.9" stroke="#a0a0a0" stroke-width="1.9" stroke-linecap="round"/>
<line x1="574.5" y1="273.7" x2="612.7" y2="307.9" stroke="#a0a0a0" stroke-width="1.9" stroke-linecap="round"/>
<line x1="591.2" y1="249.2" x2="574.5" y2="273.7" stroke="#000" stroke-width="2.7" stroke-linecap="round"/>
<line x1="574.5" y1="273.7" x2="574.5" y2="307.9" stroke="#000" stroke-width="2.7" stroke-linecap="round"/>
<line x1="574.5" y1="307.9" x2="612.7" y2="307.9" stroke="#000" stroke-width="2.7" stroke-linecap="round"/>
<line x1="574.5" y1="307.9" x2="626.5" y2="273.7" stroke="#000" stroke-width="2.7" stroke-linecap="round"/>
<line x1="612.7" y1="307.9" x2="626.5" y2="273.7" stroke="#000" stroke-width="2.7" stroke-linecap="round"/>
<circle cx="591.2" cy="249.2" r="5.5" fill="#c5506a" stroke="#000" stroke-width="2.6"/>
<circle cx="591.2" cy="249.2" r="1" fill="#8e3a4a"/>
<circle cx="574.5" cy="273.7" r="5.5" fill="#c5506a" stroke="#000" stroke-width="2.6"/>
<circle cx="574.5" cy="273.7" r="1" fill="#8e3a4a"/>
<circle cx="626.5" cy="273.7" r="5.5" fill="#c5506a" stroke="#000" stroke-width="2.6"/>
<circle cx="626.5" cy="273.7" r="1" fill="#8e3a4a"/>
<circle cx="574.5" cy="307.9" r="5.5" fill="#c5506a" stroke="#000" stroke-width="2.6"/>
<circle cx="574.5" cy="307.9" r="1" fill="#8e3a4a"/>
<circle cx="612.7" cy="307.9" r="5.5" fill="#c5506a" stroke="#000" stroke-width="2.6"/>
<circle cx="612.7" cy="307.9" r="1" fill="#8e3a4a"/>
<line x1="688.1" y1="249.2" x2="671.1" y2="273.7" stroke="#a0a0a0" stroke-width="1.9" stroke-linecap="round"/>
<line x1="688.1" y1="249.2" x2="723.6" y2="273.7" stroke="#a0a0a0" stroke-width="1.9" stroke-linecap="round"/>
<line x1="688.1" y1="249.2" x2="671.1" y2="307.9" stroke="#a0a0a0" stroke-width="1.9" stroke-linecap="round"/>
<line x1="688.1" y1="249.2" x2="709.7" y2="307.9" stroke="#a0a0a0" stroke-width="1.9" stroke-linecap="round"/>
<line x1="671.1" y1="273.7" x2="723.6" y2="273.7" stroke="#a0a0a0" stroke-width="1.9" stroke-linecap="round"/>
<line x1="671.1" y1="273.7" x2="671.1" y2="307.9" stroke="#a0a0a0" stroke-width="1.9" stroke-linecap="round"/>
<line x1="671.1" y1="273.7" x2="709.7" y2="307.9" stroke="#a0a0a0" stroke-width="1.9" stroke-linecap="round"/>
<line x1="723.6" y1="273.7" x2="671.1" y2="307.9" stroke="#a0a0a0" stroke-width="1.9" stroke-linecap="round"/>
<line x1="723.6" y1="273.7" x2="709.7" y2="307.9" stroke="#a0a0a0" stroke-width="1.9" stroke-linecap="round"/>
<line x1="671.1" y1="307.9" x2="709.7" y2="307.9" stroke="#a0a0a0" stroke-width="1.9" stroke-linecap="round"/>
<circle cx="688.1" cy="249.2" r="5.5" fill="#5a383e" stroke="#000" stroke-width="2.6"/>
<circle cx="688.1" cy="249.2" r="1" fill="#3c2428"/>
<circle cx="671.1" cy="273.7" r="5.5" fill="#5a383e" stroke="#000" stroke-width="2.6"/>
<circle cx="671.1" cy="273.7" r="1" fill="#3c2428"/>
<circle cx="723.6" cy="273.7" r="5.5" fill="#5a383e" stroke="#000" stroke-width="2.6"/>
<circle cx="723.6" cy="273.7" r="1" fill="#3c2428"/>
<circle cx="671.1" cy="307.9" r="5.5" fill="#5a383e" stroke="#000" stroke-width="2.6"/>
<circle cx="671.1" cy="307.9" r="1" fill="#3c2428"/>
<circle cx="709.7" cy="307.9" r="5.5" fill="#5a383e" stroke="#000" stroke-width="2.6"/>
<circle cx="709.7" cy="307.9" r="1" fill="#3c2428"/>
<line x1="636" y1="273.7" x2="660.5" y2="273.7" stroke="#000" stroke-width="1.7" stroke-dasharray="4,3" marker-end="url(#ao)"/>
<text x="648.00" y="286.60" font-size="12" fill="#000" text-anchor="middle" font-family="'Liberation Serif', serif" font-weight="bold" stroke="#000">. . .</text>
<path d="M684,243.6 C672,227 618,223 598.5,243.6" fill="none" stroke="#000" stroke-width="1.6" stroke-dasharray="7,3,2,3" marker-end="url(#abs)"/>
<polyline points="724,221.8 724,201.4 888.5,201.4 888.5,218" fill="none" stroke="#000" stroke-width="1.8" stroke-dasharray="7,4.5"/>
<text x="888.50" y="231.60" font-size="16" fill="#000" text-anchor="middle" font-family="'Liberation Serif', serif"  stroke="#000">Train</text>
<line x1="888.5" y1="239.5" x2="888.5" y2="256.4" stroke="#000" stroke-width="1.8" marker-end="url(#ab)"/>
<text x="835.00" y="194.00" font-size="16" fill="#000" text-anchor="start" font-family="'Liberation Serif', serif"  stroke="#000">N-1 Pair</text>
<line x1="913.8" y1="169.2" x2="903.7" y2="184.9" stroke="#000" stroke-width="1.8" stroke-linecap="round"/>
<line x1="913.8" y1="169.2" x2="936" y2="184.9" stroke="#000" stroke-width="1.8" stroke-linecap="round"/>
<line x1="903.7" y1="184.9" x2="903.7" y2="206.3" stroke="#000" stroke-width="1.8" stroke-linecap="round"/>
<line x1="903.7" y1="206.3" x2="927.6" y2="206.3" stroke="#000" stroke-width="1.8" stroke-linecap="round"/>
<line x1="927.6" y1="206.3" x2="936" y2="184.9" stroke="#000" stroke-width="1.8" stroke-linecap="round"/>
<line x1="903.7" y1="184.9" x2="927.6" y2="206.3" stroke="#000" stroke-width="1.8" stroke-linecap="round"/>
<line x1="903.7" y1="206.3" x2="936" y2="184.9" stroke="#000" stroke-width="1.8" stroke-linecap="round"/>
<line x1="913.8" y1="169.2" x2="927.6" y2="206.3" stroke="#c8102e" stroke-width="1.6" stroke-linecap="round" stroke-dasharray="5.5,3.5"/>
<circle cx="913.8" cy="169.2" r="3.6" fill="#fff" stroke="#000" stroke-width="1.7"/>
<circle cx="903.7" cy="184.9" r="3.6" fill="#fff" stroke="#000" stroke-width="1.7"/>
<circle cx="936" cy="184.9" r="3.6" fill="#fff" stroke="#000" stroke-width="1.7"/>
<circle cx="903.7" cy="206.3" r="3.6" fill="#fff" stroke="#000" stroke-width="1.7"/>
<circle cx="927.6" cy="206.3" r="3.6" fill="#fff" stroke="#000" stroke-width="1.7"/>
<text x="942" y="194" font-size="16" fill="#333" font-family="'Liberation Serif', serif" stroke="#333">, <tspan font-style="italic">S</tspan>(<tspan font-weight="bold">x</tspan>, <tspan font-weight="bold">c</tspan>)</text>
<text x="890.34" y="200.05" font-size="29.93" fill="#111" font-family="'DejaVu Sans Light', 'DejaVu Sans', sans-serif" font-weight="200">(</text>
<text x="986.79" y="200.05" font-size="29.93" fill="#111" font-family="'DejaVu Sans Light', 'DejaVu Sans', sans-serif" font-weight="200">)</text>
<rect x="787" y="257.2" width="202.5" height="139.5" rx="22" fill="none" stroke="#000" stroke-width="1.7" stroke-dasharray="7.5,4.5"/>
<text x="798.40" y="274.70" font-size="16" fill="#000" text-anchor="start" font-family="'Liberation Serif', serif" font-weight="bold" stroke="#000">(c)</text>
<ellipse cx="833" cy="338" rx="22" ry="22" fill="#fffdd0"/>
<ellipse cx="897.8" cy="331.7" rx="36" ry="20" fill="#dcf3d8"/>
<ellipse cx="951.5" cy="338.7" rx="13.5" ry="20" fill="#dfc6e3"/>
<line x1="886.3" y1="270.6" x2="832.3" y2="301.7" stroke="#9a9a9a" stroke-width="1.5" stroke-dasharray="4,3"/>
<line x1="886.3" y1="270.6" x2="886.3" y2="291.2" stroke="#9a9a9a" stroke-width="1.5" stroke-dasharray="4,3"/>
<line x1="886.3" y1="270.6" x2="950.3" y2="301.7" stroke="#9a9a9a" stroke-width="1.5" stroke-dasharray="4,3"/>
<line x1="832.3" y1="301.7" x2="830.75" y2="322.3" stroke="#9a9a9a" stroke-width="1.5" stroke-dasharray="4,3"/>
<line x1="832.3" y1="301.7" x2="818.7" y2="338.2" stroke="#9a9a9a" stroke-width="1.5" stroke-dasharray="4,3"/>
<line x1="832.3" y1="301.7" x2="845.7" y2="334" stroke="#9a9a9a" stroke-width="1.5" stroke-dasharray="4,3"/>
<line x1="832.3" y1="301.7" x2="838.7" y2="353" stroke="#9a9a9a" stroke-width="1.5" stroke-dasharray="4,3"/>
<line x1="886.3" y1="291.2" x2="873" y2="334.7" stroke="#9a9a9a" stroke-width="1.5" stroke-dasharray="4,3"/>
<line x1="886.3" y1="291.2" x2="884.7" y2="318.2" stroke="#9a9a9a" stroke-width="1.5" stroke-dasharray="4,3"/>
<line x1="886.3" y1="291.2" x2="918.6" y2="325.2" stroke="#9a9a9a" stroke-width="1.5" stroke-dasharray="4,3"/>
<line x1="948.5" y1="301.7" x2="947" y2="330" stroke="#9a9a9a" stroke-width="1.5" stroke-dasharray="4,3"/>
<line x1="952" y1="301.7" x2="950.5" y2="330" stroke="#9a9a9a" stroke-width="1.5" stroke-dasharray="4,3"/>
<line x1="830.75" y1="322.3" x2="818.7" y2="338.2" stroke="#000" stroke-width="2.0" stroke-linecap="round"/>
<line x1="830.75" y1="322.3" x2="845.7" y2="334" stroke="#000" stroke-width="2.0" stroke-linecap="round"/>
<line x1="818.7" y1="338.2" x2="838.7" y2="353" stroke="#000" stroke-width="2.0" stroke-linecap="round"/>
<line x1="845.7" y1="334" x2="838.7" y2="353" stroke="#000" stroke-width="2.0" stroke-linecap="round"/>
<line x1="845.7" y1="334" x2="873" y2="334.7" stroke="#000" stroke-width="2.0" stroke-linecap="round"/>
<line x1="873" y1="334.7" x2="884.7" y2="318.2" stroke="#000" stroke-width="2.0" stroke-linecap="round"/>
<line x1="884.7" y1="318.2" x2="918.6" y2="325.2" stroke="#000" stroke-width="2.0" stroke-linecap="round"/>
<line x1="918.6" y1="325.2" x2="948.75" y2="330.25" stroke="#000" stroke-width="2.0" stroke-linecap="round"/>
<line x1="948.75" y1="330.25" x2="955.4" y2="345.2" stroke="#000" stroke-width="2.0" stroke-linecap="round"/>
<circle cx="886.3" cy="270.6" r="4.5" fill="#fff" stroke="#000" stroke-width="1.9"/>
<circle cx="886.3" cy="291.2" r="4.5" fill="#dcf3d8" stroke="#000" stroke-width="1.9"/>
<circle cx="832.3" cy="301.7" r="4.5" fill="#fffdd0" stroke="#000" stroke-width="1.9"/>
<circle cx="950.3" cy="301.7" r="4.5" fill="#e6cfea" stroke="#000" stroke-width="1.9"/>
<circle cx="830.75" cy="322.3" r="3.9" fill="#fffdd0" stroke="#000" stroke-width="1.9"/>
<circle cx="818.7" cy="338.2" r="3.9" fill="#fffdd0" stroke="#000" stroke-width="1.9"/>
<circle cx="845.7" cy="334" r="3.9" fill="#fffdd0" stroke="#000" stroke-width="1.9"/>
<circle cx="838.7" cy="353" r="3.9" fill="#fffdd0" stroke="#000" stroke-width="1.9"/>
<circle cx="873" cy="334.7" r="3.9" fill="#dcf3d8" stroke="#000" stroke-width="1.9"/>
<circle cx="884.7" cy="318.2" r="3.9" fill="#dcf3d8" stroke="#000" stroke-width="1.9"/>
<circle cx="918.6" cy="325.2" r="3.9" fill="#dcf3d8" stroke="#000" stroke-width="1.9"/>
<circle cx="948.75" cy="330.25" r="3.9" fill="#e6cfea" stroke="#000" stroke-width="1.9"/>
<circle cx="955.4" cy="345.2" r="3.9" fill="#e6cfea" stroke="#000" stroke-width="1.9"/>
<text x="893.50" y="370.80" font-size="16" fill="#000" text-anchor="middle" font-family="'Liberation Serif', serif"  stroke="#000">Topology-aware</text>
<text x="893.60" y="389.30" font-size="16" fill="#000" text-anchor="middle" font-family="'Liberation Serif', serif"  stroke="#000">EVGNN Risk Scoring</text>
<polyline points="889,396.7 889,416.6 723.5,416.6 723.5,366" fill="none" stroke="#000" stroke-width="1.8" stroke-dasharray="7,4.5"/>
<path d="M718.8,371 L723.5,359.6 L728.2,371 z" fill="#000"/>
<text x="742.30" y="434.70" font-size="16" fill="#000" text-anchor="start" font-family="'Liberation Serif', serif"  stroke="#000">N-K Dataset prepare</text>
<polyline points="684.6,359.2 684.6,397 437,397" fill="none" stroke="#000" stroke-width="2.2" marker-end="url(#ab)"/>
<text x="453.8" y="391.5" font-size="16" fill="#000" font-family="'Liberation Serif', serif" stroke="#000">Generate N-K <tspan font-weight="bold">with high severity</tspan></text>
<text x="471.90" y="418.40" font-size="16" fill="#008080" text-anchor="start" font-family="'Liberation Serif', serif"  stroke="#008080">No AC power flow required</text>
<text x="471.90" y="439.40" font-size="16" fill="#008080" text-anchor="start" font-family="'Liberation Serif', serif"  stroke="#008080">No</text>
<text x="530.80" y="439.40" font-size="16" fill="#008080" text-anchor="start" font-family="'Liberation Serif', serif"  stroke="#008080">loop required</text>
<text x="511.70" y="435.60" font-size="15.8" fill="#2a2a2a" text-anchor="middle" font-family="'Liberation Serif', serif" font-style="italic" style="stroke-width:0" stroke="#2a2a2a">N</text>
<text x="511.70" y="455.00" font-size="15.8" fill="#2a2a2a" text-anchor="middle" font-family="'Liberation Serif', serif" font-style="italic" style="stroke-width:0" stroke="#2a2a2a">K</text>
<text x="493.67" y="452.42" font-size="39.24" fill="#333" font-family="'DejaVu Sans Light', 'DejaVu Sans', sans-serif" font-weight="200">(</text>
<text x="514.42" y="452.42" font-size="39.24" fill="#333" font-family="'DejaVu Sans Light', 'DejaVu Sans', sans-serif" font-weight="200">)</text>
<line x1="394.2" y1="373.5" x2="378" y2="397.1" stroke="#000" stroke-width="2.9" stroke-linecap="round"/>
<line x1="394.2" y1="373.5" x2="430" y2="397.1" stroke="#000" stroke-width="2.9" stroke-linecap="round"/>
<line x1="378" y1="397.1" x2="378" y2="431.5" stroke="#000" stroke-width="2.9" stroke-linecap="round"/>
<line x1="378" y1="431.5" x2="416.2" y2="431.5" stroke="#000" stroke-width="2.9" stroke-linecap="round"/>
<line x1="416.2" y1="431.5" x2="430" y2="397.1" stroke="#000" stroke-width="2.9" stroke-linecap="round"/>
<line x1="394.2" y1="373.5" x2="416.2" y2="431.5" stroke="#b8102f" stroke-width="2.3" stroke-dasharray="11.5,9.8" stroke-dashoffset="-2.8"/>
<line x1="378" y1="397.1" x2="416.2" y2="431.5" stroke="#b8102f" stroke-width="2.3" stroke-dasharray="10.7,7.3" stroke-dashoffset="-8"/>
<line x1="430" y1="397.1" x2="378" y2="431.5" stroke="#b8102f" stroke-width="2.3" stroke-dasharray="11,9.3" stroke-dashoffset="-5.8"/>
<circle cx="394.2" cy="373.5" r="5.5" fill="#fff" stroke="#000" stroke-width="2.6"/>
<circle cx="378" cy="397.1" r="5.5" fill="#fff" stroke="#000" stroke-width="2.6"/>
<circle cx="430" cy="397.1" r="5.5" fill="#fff" stroke="#000" stroke-width="2.6"/>
<circle cx="378" cy="431.5" r="5.5" fill="#fff" stroke="#000" stroke-width="2.6"/>
<circle cx="416.2" cy="431.5" r="5.5" fill="#fff" stroke="#000" stroke-width="2.6"/>
<text x="402.30" y="461.00" font-size="16" fill="#000" text-anchor="middle" font-family="'Liberation Serif', serif"  stroke="#000">N-K contingency</text>
<polyline points="76.5,317.5 76.5,397.3 370.6,397.3" fill="none" stroke="#a0a0a0" stroke-width="1.4" stroke-dasharray="8,5" marker-end="url(#ag)"/>
<text x="88.30" y="370.60" font-size="16" fill="#000" text-anchor="start" font-family="'Liberation Serif', serif"  stroke="#000">Exhaustive approach:</text>
<text x="117" y="391.4" font-size="16" fill="#be1030" font-family="'Liberation Serif', serif" stroke="#be1030">AC per contingency <tspan fill="#000" stroke="#000">for</tspan></text>
<text x="288.00" y="372.30" font-size="15.8" fill="#2a2a2a" text-anchor="middle" font-family="'Liberation Serif', serif" font-style="italic" style="stroke-width:0" stroke="#2a2a2a">N</text>
<text x="288.00" y="392.60" font-size="15.8" fill="#2a2a2a" text-anchor="middle" font-family="'Liberation Serif', serif" font-style="italic" style="stroke-width:0" stroke="#2a2a2a">K</text>
<text x="269.88" y="390.50" font-size="40.13" fill="#333" font-family="'DejaVu Sans Light', 'DejaVu Sans', sans-serif" font-weight="200">(</text>
<text x="290.47" y="390.50" font-size="40.13" fill="#333" font-family="'DejaVu Sans Light', 'DejaVu Sans', sans-serif" font-weight="200">)</text>
<text x="88.30" y="417.80" font-size="16" fill="#000" text-anchor="start" font-family="'Liberation Serif', serif"  stroke="#000">Surrogate and Screen approach:</text>
<text x="116.60" y="438.80" font-size="16" fill="#000" text-anchor="start" font-family="'Liberation Serif', serif"  stroke="#000">No AC per contingency</text>
<text x="154.00" y="457.20" font-size="16" fill="#be1030" text-anchor="start" font-family="'Liberation Serif', serif"  stroke="#be1030">but still loop over</text>
<text x="288.00" y="437.20" font-size="15.8" fill="#2a2a2a" text-anchor="middle" font-family="'Liberation Serif', serif" font-style="italic" style="stroke-width:0" stroke="#2a2a2a">N</text>
<text x="288.00" y="456.30" font-size="15.8" fill="#2a2a2a" text-anchor="middle" font-family="'Liberation Serif', serif" font-style="italic" style="stroke-width:0" stroke="#2a2a2a">K</text>
<text x="269.90" y="455.13" font-size="39.91" fill="#333" font-family="'DejaVu Sans Light', 'DejaVu Sans', sans-serif" font-weight="200">(</text>
<text x="290.54" y="455.13" font-size="39.91" fill="#333" font-family="'DejaVu Sans Light', 'DejaVu Sans', sans-serif" font-weight="200">)</text>
</svg>
</body></html>
